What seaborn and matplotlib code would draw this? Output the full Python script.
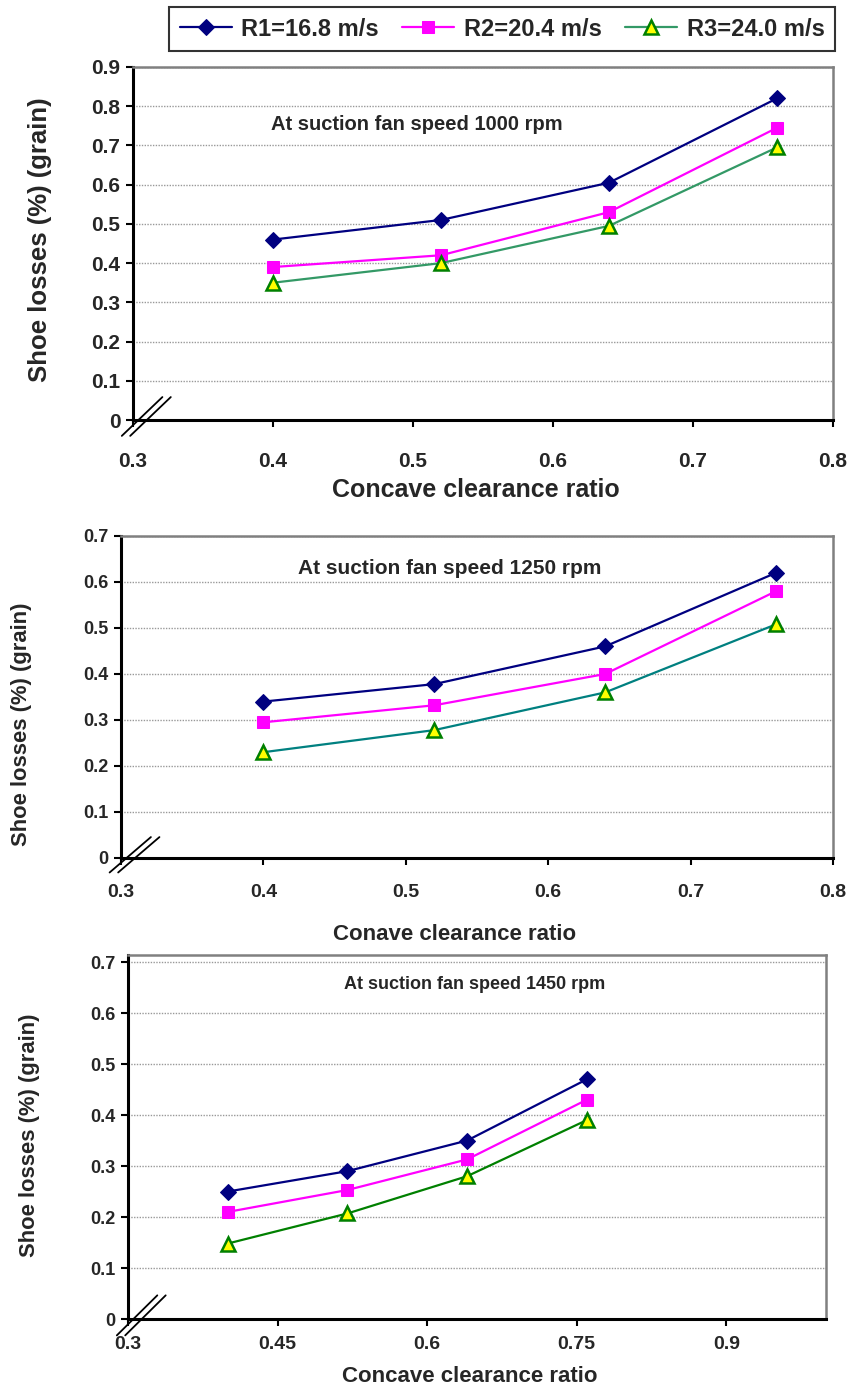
import matplotlib
matplotlib.use("Agg")
import matplotlib.pyplot as plt
import seaborn as sns
import pandas as pd
from matplotlib.ticker import FuncFormatter, MultipleLocator

sns.set_theme(style="white")
plt.rcParams['font.family'] = ['Liberation Sans', 'DejaVu Sans']

# ---------------- data ----------------
clearance = [0.40, 0.52, 0.64, 0.76]
series_labels = ["R1=16.8 m/s", "R2=20.4 m/s", "R3=24.0 m/s"]

r1_1000 = [0.46, 0.51, 0.605, 0.82]
r2_1000 = [0.39, 0.42, 0.53, 0.745]
r3_1000 = [0.35, 0.40, 0.495, 0.695]

r1_1250 = [0.34, 0.378, 0.46, 0.62]
r2_1250 = [0.295, 0.332, 0.40, 0.58]
r3_1250 = [0.23, 0.278, 0.36, 0.508]

r1_1450 = [0.25, 0.29, 0.35, 0.47]
r2_1450 = [0.21, 0.253, 0.313, 0.43]
r3_1450 = [0.148, 0.207, 0.28, 0.39]

titles = ["At suction fan speed 1000 rpm", "At suction fan speed 1250 rpm",
          "At suction fan speed 1450 rpm"]
xlabels = ["Concave clearance ratio", "Conave clearance ratio", "Concave clearance ratio"]
ylabel = "Shoe losses (%) (grain)"

# ---------------- figure ----------------
W, H = 852, 1394
fig = plt.figure(figsize=(W / 100, H / 100), dpi=100)


def frac_rect(l, r, t, b):
    return [l / W, 1 - b / H, (r - l) / W, (b - t) / H]


ax1 = fig.add_axes(frac_rect(133, 833, 67, 420))
ax2 = fig.add_axes(frac_rect(121, 833, 536, 858))
ax3 = fig.add_axes(frac_rect(128, 826, 955, 1319))

fam = ['Liberation Sans', 'DejaVu Sans']

panels = [
    (ax1, [r1_1000, r2_1000, r3_1000], "#339966"),
    (ax2, [r1_1250, r2_1250, r3_1250], "#008080"),
    (ax3, [r1_1450, r2_1450, r3_1450], "#008000"),
]

styles = [
    dict(color="#000080", marker="D", markersize=8.5, markerfacecolor="#000080",
         markeredgecolor="#000080"),
    dict(color="#FF00FF", marker="s", markersize=9, markerfacecolor="#FF00FF",
         markeredgecolor="#FF00FF"),
    dict(marker="^", markersize=10, markerfacecolor="#FFFF00",
         markeredgecolor="#008000", markeredgewidth=1.8),
]

for i, (ax, vals, green) in enumerate(panels):
    for j, (v, lab) in enumerate(zip(vals, series_labels)):
        st = dict(styles[j])
        if j == 2:
            st["color"] = green
        sns.lineplot(x=clearance, y=v, ax=ax, label=lab, linewidth=1.6, **st)
    leg = ax.get_legend()
    if leg is not None:
        leg.remove()

# axis limits & ticks
ax1.set_xlim(0.3, 0.8)
ax1.set_ylim(0, 0.9)
ax1.xaxis.set_major_locator(MultipleLocator(0.1))
ax1.yaxis.set_major_locator(MultipleLocator(0.1))

ax2.set_xlim(0.3, 0.8)
ax2.set_ylim(0, 0.7)
ax2.xaxis.set_major_locator(MultipleLocator(0.1))
ax2.yaxis.set_major_locator(MultipleLocator(0.1))

ax3.set_xlim(0.3, 1.0)
ax3.set_ylim(0, 0.714)
ax3.set_xticks([0.3, 0.45, 0.6, 0.75, 0.9])
ax3.set_yticks([0, 0.1, 0.2, 0.3, 0.4, 0.5, 0.6, 0.7])

fmt = FuncFormatter(lambda v, p: "0" if abs(v) < 1e-9 else f"{v:g}")

for ax in (ax1, ax2, ax3):
    ax.xaxis.set_major_formatter(fmt)
    ax.yaxis.set_major_formatter(fmt)
    ax.grid(axis="y", color="#999999", linestyle=(0, (1, 1)), linewidth=1.0)
    ax.grid(axis="x", visible=False)
    ax.set_axisbelow(True)
    for s in ("left", "bottom"):
        ax.spines[s].set_color("black")
        ax.spines[s].set_linewidth(2.2)
    for s in ("top", "right"):
        ax.spines[s].set_color("#808080")
        ax.spines[s].set_linewidth(1.8)
    ax.tick_params(axis="both", direction="out", length=5, width=1.5, color="black",
                   left=True, bottom=True, pad=4)
    ax.set_xlabel("")
    ax.set_ylabel("")
    # axis break marks
    for dx in (0.0, 0.012):
        ax.plot([dx - 0.016, 0.042 + dx], [-0.045, 0.065], transform=ax.transAxes,
                color="black", linewidth=1.3, clip_on=False)

# tick label fonts
for lab in ax1.get_xticklabels() + ax1.get_yticklabels():
    lab.set_fontfamily(fam); lab.set_fontweight("bold"); lab.set_fontsize(15)
for lab in ax2.get_xticklabels():
    lab.set_fontfamily(fam); lab.set_fontweight("bold"); lab.set_fontsize(14)
for lab in ax2.get_yticklabels():
    lab.set_fontfamily(fam); lab.set_fontweight("bold"); lab.set_fontsize(13)
for lab in ax3.get_xticklabels():
    lab.set_fontfamily(fam); lab.set_fontweight("bold"); lab.set_fontsize(14)
for lab in ax3.get_yticklabels():
    lab.set_fontfamily(fam); lab.set_fontweight("bold"); lab.set_fontsize(13)

ax1.tick_params(axis="x", pad=18)
ax2.tick_params(axis="x", pad=14)
ax3.tick_params(axis="x", pad=7)

# titles inside axes
ax1.text(0.406, 0.836, titles[0], transform=ax1.transAxes, ha="center", va="center",
         fontfamily=fam, fontweight="bold", fontsize=14.5)
ax2.text(0.462, 0.90, titles[1], transform=ax2.transAxes, ha="center", va="center",
         fontfamily=fam, fontweight="bold", fontsize=15)
ax3.text(0.497, 0.918, titles[2], transform=ax3.transAxes, ha="center", va="center",
         fontfamily=fam, fontweight="bold", fontsize=13)

# axis labels (figure coords)
fig.text(40 / W, 1 - 240 / H, ylabel, rotation=90, ha="center", va="center",
         fontfamily=fam, fontweight="bold", fontsize=18.5)
fig.text(22 / W, 1 - 724 / H, ylabel, rotation=90, ha="center", va="center",
         fontfamily=fam, fontweight="bold", fontsize=15.8)
fig.text(30 / W, 1 - 1135 / H, ylabel, rotation=90, ha="center", va="center",
         fontfamily=fam, fontweight="bold", fontsize=15.8)

fig.text(476 / W, 1 - 490 / H, xlabels[0], ha="center", va="center",
         fontfamily=fam, fontweight="bold", fontsize=18)
fig.text(455 / W, 1 - 935 / H, xlabels[1], ha="center", va="center",
         fontfamily=fam, fontweight="bold", fontsize=16)
fig.text(470 / W, 1 - 1377 / H, xlabels[2], ha="center", va="center",
         fontfamily=fam, fontweight="bold", fontsize=16)

# legend
handles, labels = ax1.get_legend_handles_labels()
leg = fig.legend(handles, labels, loc="center", bbox_to_anchor=(502 / W, 1 - 29 / H),
                 ncol=3, frameon=True, fancybox=False, edgecolor="black",
                 prop=dict(family=fam, weight="bold", size=17),
                 handlelength=2.2, columnspacing=1.0, handletextpad=0.4,
                 borderpad=0.45)
leg.get_frame().set_linewidth(1.5)

fig.savefig("out.png", dpi=100, facecolor="white")
